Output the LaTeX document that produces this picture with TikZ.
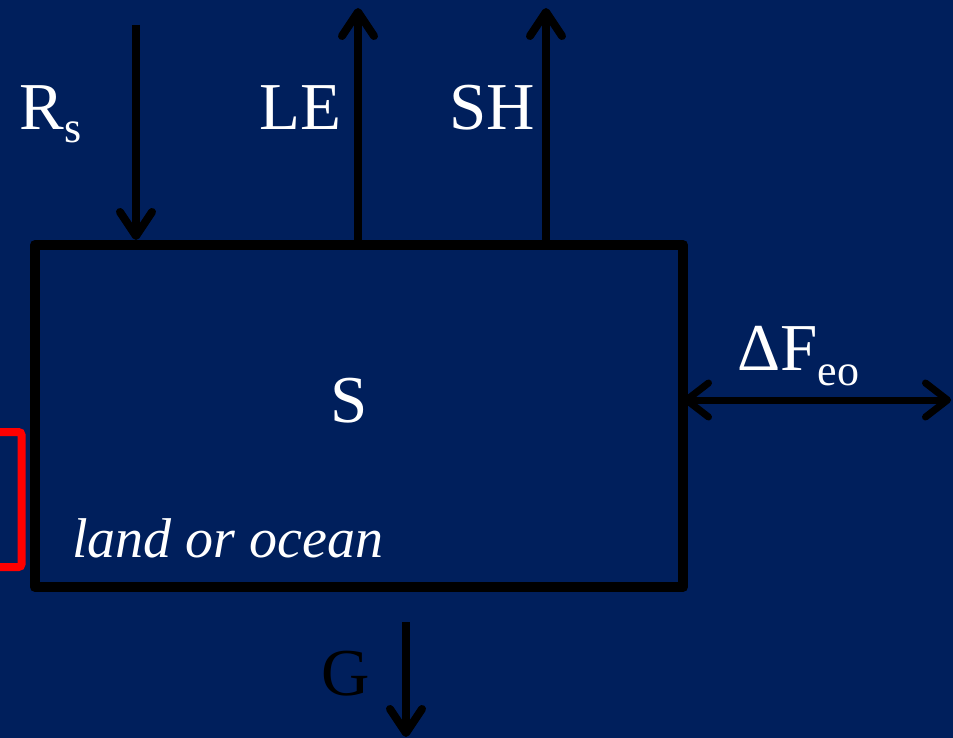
\documentclass[tikz,border=0pt]{standalone}
\usepackage{fontspec}
\setmainfont{Liberation Serif}
\usetikzlibrary{arrows.meta}
\definecolor{bgblue}{RGB}{0,31,92}
\definecolor{bracketred}{RGB}{255,0,0}
\tikzset{
  flux/.style={line width=8pt,-{Straight Barb[length=24pt,width=32pt,line cap=round,line join=round]}},
  dflux/.style={line width=7pt,{Straight Barb[length=22pt,width=34pt,line cap=round,line join=round]}-{Straight Barb[length=22pt,width=34pt,line cap=round,line join=round]}},
  lbl/.style={inner sep=0pt,anchor=base west,text=white,font=\fontsize{67}{80}\selectfont},
  sublbl/.style={inner sep=0pt,anchor=base west,text=white,font=\fontsize{44}{52}\selectfont},
}
\begin{document}
\begin{tikzpicture}[x=1pt,y=-1pt]
\fill[bgblue] (0,0) rectangle (953,738);
\useasboundingbox (0,0) rectangle (953,738);
% surface box
\node[draw=black,line width=10pt,line join=round,outer sep=0pt,inner sep=0pt,
      minimum width=648pt,minimum height=342pt,anchor=north west] (box) at (35,245) {};
% red bracket
\draw[bracketred,line width=8pt,rounded corners=3pt] (-10,432) coordinate (rb1) -- (21.5,432) -- (21.5,567) -- (-10,567) coordinate (rb2);
% flux arrows
\coordinate (rs0) at (136,25);
\coordinate (rs1) at (136,240);
\draw[flux] (rs0) -- (rs1);
\coordinate (le0) at (358,245);
\coordinate (le1) at (358,8);
\draw[flux] (le0) -- (le1);
\coordinate (sh0) at (546,245);
\coordinate (sh1) at (546,8);
\draw[flux] (sh0) -- (sh1);
\coordinate (fe0) at (683,400);
\coordinate (fe1) at (951,400);
\draw[dflux] (fe0) -- (fe1);
\coordinate (g0) at (406,622);
\coordinate (g1) at (406,737);
\draw[flux] (g0) -- (g1);
% labels
\node[lbl] (rs) at (19,130) {R};
\node[sublbl] (rssub) at (rs.base east) [yshift=-13pt] {s};
\node[lbl] (le) at (259,130) {LE};
\node[lbl] (sh) at (449,130) {SH};
\node[lbl,anchor=base] (s) at (349,422) {S};
\node[lbl] (df) at (737,370) {ΔF};
\node[sublbl] (dfsub) at (df.base east) [yshift=-15pt] {eo};
\node[lbl,font=\fontsize{56}{66}\selectfont\itshape] (land) at (72,557) {land or ocean};
\node[lbl,text=black] (g) at (321,695) {G};
\end{tikzpicture}
\end{document}
